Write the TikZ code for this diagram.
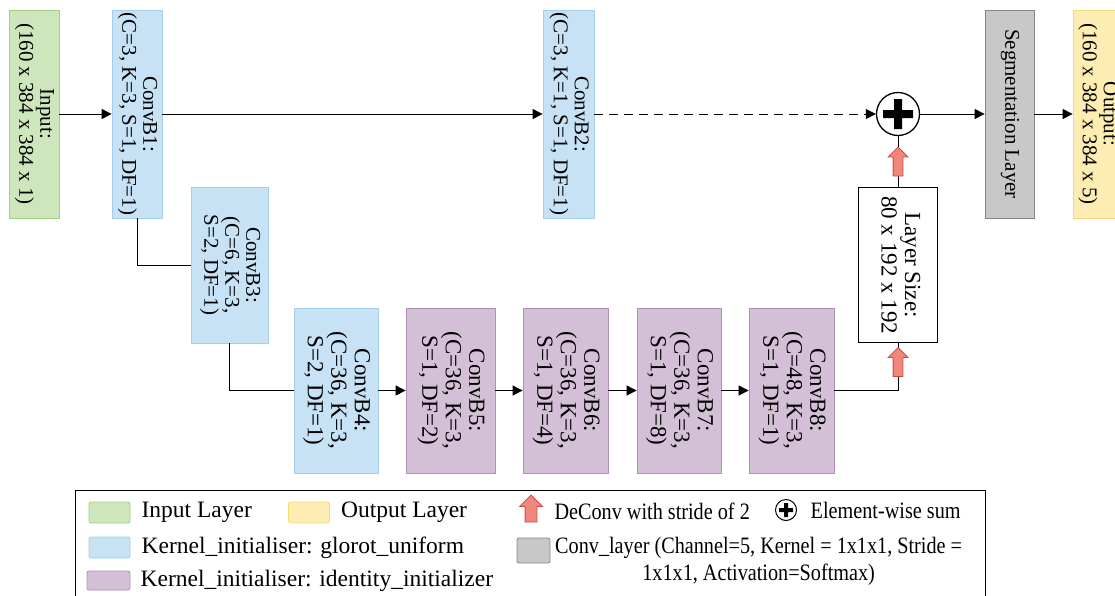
\documentclass[tikz,border=0pt]{standalone}
\usepackage{fontspec}
\setmainfont{Liberation Serif}
\newfontfamily\narrowserif[FakeStretch=0.86]{Liberation Serif}
\usetikzlibrary{arrows.meta,shapes.arrows,positioning}

\definecolor{ingreen}{RGB}{206,230,188}
\definecolor{ingreenline}{RGB}{160,208,130}
\definecolor{glorotblue}{RGB}{199,225,245}
\definecolor{glorotline}{RGB}{165,205,238}
\definecolor{identpurple}{RGB}{212,192,214}
\definecolor{identline}{RGB}{176,145,182}
\definecolor{outyellow}{RGB}{253,237,178}
\definecolor{outyellowline}{RGB}{244,216,125}
\definecolor{seggray}{RGB}{200,200,200}
\definecolor{seggrayline}{RGB}{135,135,135}
\definecolor{deconvred}{RGB}{240,135,125}
\definecolor{deconvline}{RGB}{205,75,70}

\newcommand{\smalltxt}{\fontsize{21}{21}\selectfont}
\newcommand{\bigtxt}{\fontsize{23}{23.5}\selectfont}
\newcommand{\vlabel}[2]{\rotatebox{-90}{#1\begin{tabular}{@{}c@{}}#2\end{tabular}}}
\newcommand{\plusmark}[3]{\fill (#1) +(-#2,-#3) rectangle +(#2,#3) +(-#3,-#2) rectangle +(#3,#2);}

\tikzstyle{layer} = [draw, line width=0.8pt, inner sep=0pt, minimum width=50pt, minimum height=208pt]
\tikzstyle{inlayer} = [layer, draw=ingreenline, fill=ingreen]
\tikzstyle{outlayer} = [layer, draw=outyellowline, fill=outyellow]
\tikzstyle{seglayer} = [layer, draw=seggrayline, fill=seggray]
\tikzstyle{glorot} = [layer, draw=glorotline, fill=glorotblue]
\tikzstyle{ident} = [layer, draw=identline, fill=identpurple, minimum height=165pt]
\tikzstyle{sizebox} = [draw=black, fill=white, line width=1.1pt, inner sep=0pt, minimum width=79pt, minimum height=155pt]
\tikzstyle{sumnode} = [circle, draw=black, fill=white, line width=1.3pt, minimum size=43pt, inner sep=0pt]
\tikzstyle{link} = [line width=1pt, -{Triangle[length=10pt,width=10pt]}]
\tikzstyle{plain} = [line width=1pt]
\tikzstyle{deconv} = [single arrow, shape border rotate=90, draw=deconvline, fill=deconvred, line width=0.8pt, inner sep=4.5pt, minimum height=29pt, single arrow head extend=5pt, single arrow tip angle=90]
\tikzstyle{swatch} = [draw, line width=0.8pt, rounded corners=2pt, inner sep=0pt, minimum width=41pt, minimum height=21pt]
\tikzstyle{legtext} = [inner sep=0pt, font=\fontsize{23.5}{27}\selectfont]
\tikzstyle{legnarrow} = [inner sep=0pt, font=\narrowserif\fontsize{23.5}{27}\selectfont]

\begin{document}
\begin{tikzpicture}[x=1pt,y=-1pt]
\useasboundingbox (0,0) rectangle (1115,595);

% top row
\node[inlayer] (in) at (34,114) {\vlabel{\smalltxt}{Input:\\(160 x 384 x 384 x 1)}};
\node[glorot] (b1) at (137,114) {\vlabel{\smalltxt}{ConvB1:\\(C=3, K=3, S=1, DF=1)}};
\node[glorot, minimum width=51pt] (b2) at (568.5,114) {\vlabel{\smalltxt}{ConvB2:\\(C=3, K=1, S=1, DF=1)}};
\node[sumnode] (sum) at (898,114) {};
\plusmark{sum}{15}{4}
\node[seglayer, minimum width=49pt] (seg) at (1009.5,114) {\vlabel{\smalltxt}{Segmentation Layer}};
\node[outlayer, minimum width=49pt] (out) at (1097.5,114) {\vlabel{\smalltxt}{Output:\\(160 x 384 x 384 x 5)}};

% encoder
\node[glorot, minimum width=77pt, minimum height=156pt] (b3) at (229.5,265) {\vlabel{\smalltxt}{ConvB3:\\(C=6, K=3,\\S=2, DF=1)}};
\node[glorot, minimum width=84pt, minimum height=165pt] (b4) at (336,390.5) {\vlabel{\bigtxt}{ConvB4:\\(C=36, K=3,\\S=2, DF=1)}};
\node[ident, minimum width=89pt] (b5) at (450.5,390.5) {\vlabel{\bigtxt}{ConvB5:\\(C=36, K=3,\\S=1, DF=2)}};
\node[ident, minimum width=85pt] (b6) at (565.5,390.5) {\vlabel{\bigtxt}{ConvB6:\\(C=36, K=3,\\S=1, DF=4)}};
\node[ident, minimum width=84pt] (b7) at (679,390.5) {\vlabel{\bigtxt}{ConvB7:\\(C=36, K=3,\\S=1, DF=8)}};
\node[ident, minimum width=85pt] (b8) at (791.5,390.5) {\vlabel{\bigtxt}{ConvB8:\\(C=48, K=3,\\S=1, DF=1)}};
\node[sizebox] (size) at (898,265) {\vlabel{\bigtxt}{Layer Size:\\80 x 192 x 192}};

% connections
\draw[link] (in) -- (b1);
\draw[link] (b1) -- (b2);
\draw[link, dash pattern=on 9pt off 6pt] (b2) -- (sum);
\draw[link] (sum) -- (seg);
\draw[link] (seg) -- (out);
\draw[plain] (b1.south) |- (b3.west);
\draw[plain] (b3.south) |- (b4.west);
\draw[link] (b4) -- (b5);
\draw[link] (b5) -- (b6);
\draw[link] (b6) -- (b7);
\draw[link] (b7) -- (b8);
\draw[plain] (b8.east) -| (size.south);
\draw[plain] (size.north) -- (sum.south);
\node[deconv] (up1) at (898,164) {};
\node[deconv] (up2) at (898,364.5) {};

% legend
\draw[line width=1pt] (75,597) -- (75,490) -- (985,490) -- (985,597);
\node[swatch, draw=ingreenline, fill=ingreen] (kin) at (109.5,512.5) {};
\node[legtext, right=11pt of kin] (tin) {Input Layer};
\node[swatch, draw=outyellowline, fill=outyellow] (kout) at (309,512.5) {};
\node[legtext, right=11pt of kout] (tout) {Output Layer};
\node[deconv, inner sep=5.5pt, minimum height=27pt, single arrow head extend=5.5pt] (kup) at (531,511.5) {};
\node[legnarrow, right=17pt of kup] (tup) {DeConv with stride of 2};
\node[sumnode, minimum size=21pt, line width=1pt] (ksum) at (786,510) {};
\plusmark{ksum}{7}{2}
\node[legnarrow, right=13.5pt of ksum] (tsum) {Element-wise sum};
\node[swatch, draw=glorotline, fill=glorotblue] (kglo) at (109.5,547.5) {};
\node[legtext, right=11pt of kglo] (tglo) {Kernel\_initialiser: glorot\_uniform};
\node[swatch, draw=identline, fill=identpurple, minimum width=43pt, minimum height=19pt] (kid) at (108.5,580.5) {};
\node[legtext, right=10pt of kid] (tid) {Kernel\_initialiser: identity\_initializer};
\node[swatch, draw=seggrayline, fill=seggray, minimum width=33pt, minimum height=25pt] (kseg) at (533.5,550.5) {};
\node[legnarrow, align=center, anchor=north west] (tseg) at (555,537) {Conv\_layer (Channel=5, Kernel = 1x1x1, Stride =\\1x1x1, Activation=Softmax)};
\end{tikzpicture}
\end{document}
